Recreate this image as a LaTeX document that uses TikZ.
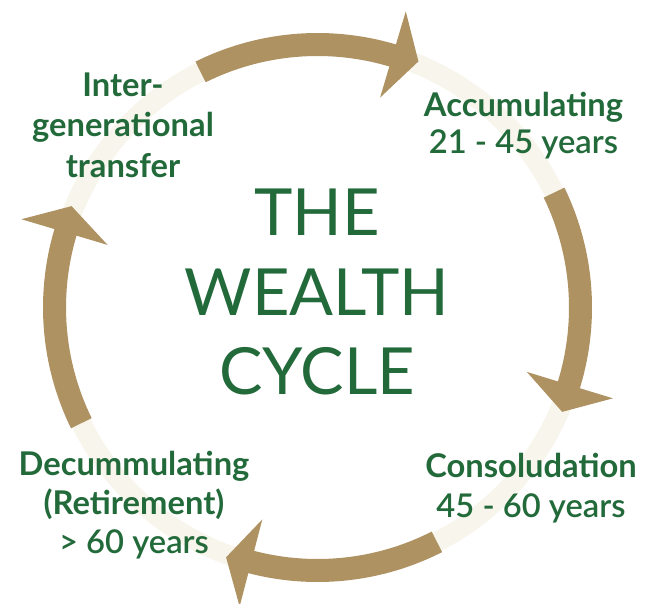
\documentclass[tikz,border=0pt]{standalone}
\usepackage{fontspec}
\setmainfont{Lato}[Ligatures={Common,Discretionary}]
\newfontfamily\latosemi{Lato Semibold}
\definecolor{cyclegold}{HTML}{AE9262}
\definecolor{cyclegreen}{HTML}{236A3B}
\definecolor{cyclecream}{HTML}{F8F5EC}
\begin{document}
\begin{tikzpicture}[x=1pt,y=1pt,
  stagelabel/.style={text=cyclegreen, align=center, anchor=base, inner sep=0pt,
    font=\fontsize{32.7}{40}\selectfont\bfseries},
  titletext/.style={text=cyclegreen, align=center, anchor=base, inner sep=0pt,
    font=\fontsize{65}{79.5}\selectfont}]
\useasboundingbox (0,0) rectangle (653,603);

% track and the four curved arrows of the cycle
\begin{scope}[shift={(317.5,295.5)}]
  \draw[cyclecream, line width=20pt] (0,0) circle (263);
  \foreach \t/\b/\p in {116.4/73.4/67.7, 25.9/-17.1/-23.1, -63/-104.6/-110.1, 206.1/163.4/157.6}{
    \fill[cyclegold] (\t:251.5) arc[start angle=\t, end angle=\b, radius=251.5]
      -- (\b:219) -- (\p:266) -- (\b:309) -- (\b:274.5)
      arc[start angle=\b, end angle=\t, radius=274.5] -- cycle;
  }
\end{scope}

% the base anchor sits on the last line of each text
\node[titletext] (title) at (317,208) {THE\\WEALTH\\CYCLE};

\node[stagelabel, font=\fontsize{32.7}{40.5}\selectfont\bfseries] (transfer) at (123,425.5)
  {Inter-\\generational\\transfer};
\node[stagelabel, font=\fontsize{32.7}{37.5}\selectfont\bfseries] (accum) at (523.5,449)
  {Accumulating\\{\latosemi\mdseries 21 - 45 years}};
\node[stagelabel] (consol) at (531,85.7)
  {Consoludation\\{\latosemi\mdseries 45 - 60 years}};
\node[stagelabel, font=\fontsize{32.7}{39}\selectfont\bfseries] (decum) at (134,49.7)
  {Decummulating\\(Retirement)\\{\latosemi\mdseries > 60 years}};
\end{tikzpicture}
\end{document}
